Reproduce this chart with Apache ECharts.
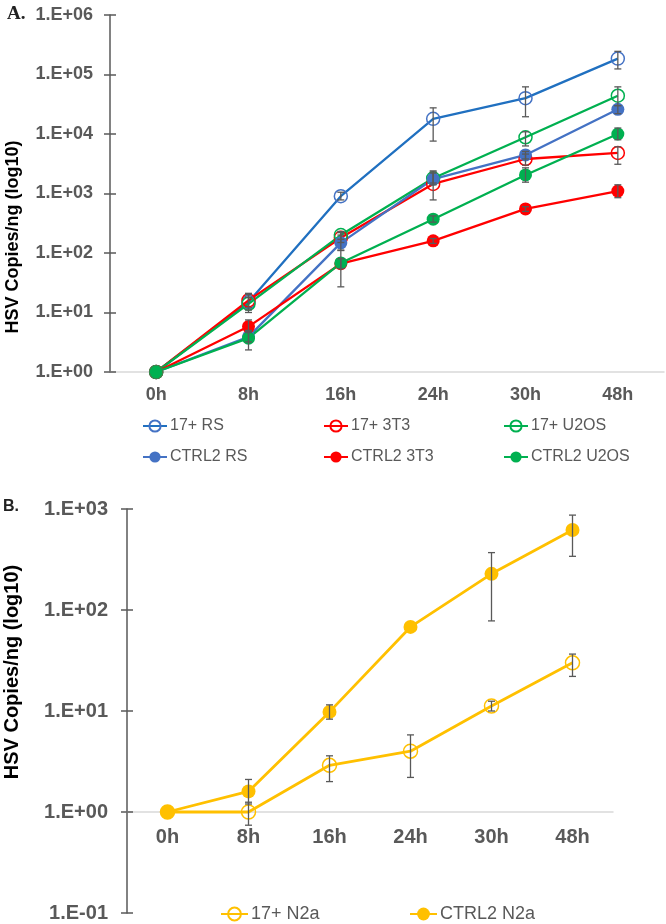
<!DOCTYPE html>
<html>
<head>
<meta charset="utf-8">
<script src="https://cdn.jsdelivr.net/npm/echarts@6/dist/echarts.min.js"></script>
<style>
html,body{margin:0;padding:0;background:#fff;}
#chart{width:666px;height:924px;}
</style>
</head>
<body>
<div id="chart"></div>
<script>
// ---------- data ----------
const categories = ['0h', '8h', '16h', '24h', '30h', '48h'];

// Panel A
const rs17      = [1, 15,  900, 18000, 40000, 185000];
const t3t17     = [1, 16,  180,  1450,  3800,   4800];
const u2os17    = [1, 14,  200,  1800,  8800,  44000];
const rsCtrl    = [1, 3.9, 148,  1750,  4450,  26000];
const t3tCtrl   = [1, 5.8,  66,   160,   550,   1100];
const u2osCtrl  = [1, 3.7,  68,   370,  2050,  10000];

const rs17Lo     = [null, 12, 780, 7600, 19500, 124000];
const rs17Hi     = [null, 20, 1050, 27500, 62000, 245000];
const t3t17Lo    = [null, 11, 150, 780, 3000, 3100];
const t3t17Hi    = [null, 21, 220, 2400, 4600, 6100];
const u2os17Lo   = [null, 10, 170, 1500, 6300, 30000];
const u2os17Hi   = [null, 18, 230, 2200, 10900, 62000];
const rsCtrlLo   = [null, 3.2, 110, 1400, 3800, 22000];
const rsCtrlHi   = [null, 4.6, 200, 2300, 5100, 30000];
const t3tCtrlLo  = [null, 4.8, 55, 145, 500, 850];
const t3tCtrlHi  = [null, 7.5, 80, 175, 600, 1400];
const u2osCtrlLo = [null, 2.35, 27, 330, 1550, 8000];
const u2osCtrlHi = [null, 5.0, 112, 420, 2700, 12600];

// Panel B
const n2a17    = [1, 1,   2.9, 4.0, 11.2, 30];
const n2aCtrl  = [1, 1.6, 9.8, 68,  228,  620];
const n2a17Lo   = [null, 0.74, 2.0, 2.2, 10, 22];
const n2a17Hi   = [null, 1.25, 3.6, 5.8, 12.5, 36.6];
const n2aCtrlLo = [null, 1.2, 8.3, null, 78, 340];
const n2aCtrlHi = [null, 2.1, 11.5, null, 370, 870];

const yTicksA = ['1.E+00', '1.E+01', '1.E+02', '1.E+03', '1.E+04', '1.E+05', '1.E+06'];
const yTicksB = ['1.E-01', '1.E+00', '1.E+01', '1.E+02', '1.E+03'];

// ---------- helpers ----------
const FONT = '"Liberation Sans", Arial, sans-serif';
const GRAY = '#595959';

function errData(lo, hi) {
  const out = [];
  for (let i = 0; i < lo.length; i++) {
    if (lo[i] != null && hi[i] != null) out.push([i, lo[i], hi[i]]);
  }
  return out;
}
function errSeries(lo, hi, xi, yi) {
  return {
    type: 'custom', xAxisIndex: xi, yAxisIndex: yi, z: 10, silent: true,
    encode: { x: 0, y: [1, 2] },
    data: errData(lo, hi),
    renderItem: function (params, api) {
      const x = api.value(0);
      const p1 = api.coord([x, api.value(2)]);
      const p2 = api.coord([x, api.value(1)]);
      const w = 3.5;
      const st = { stroke: GRAY, lineWidth: 1.3 };
      return { type: 'group', children: [
        { type: 'line', shape: { x1: p1[0], y1: p1[1], x2: p2[0], y2: p2[1] }, style: st },
        { type: 'line', shape: { x1: p1[0] - w, y1: p1[1], x2: p1[0] + w, y2: p1[1] }, style: st },
        { type: 'line', shape: { x1: p2[0] - w, y1: p2[1], x2: p2[0] + w, y2: p2[1] }, style: st }
      ]};
    }
  };
}
function lineSeries(name, data, color, open, xi, yi, size, lw, markerColor) {
  const mc = markerColor || color;
  return {
    name: name, type: 'line', xAxisIndex: xi, yAxisIndex: yi, data: data,
    symbol: 'circle', symbolSize: size, z: 3,
    lineStyle: { color: color, width: lw },
    itemStyle: open
      ? { color: 'rgba(255,255,255,0)', borderColor: mc, borderWidth: 1.5 }
      : { color: mc, borderColor: mc, borderWidth: 0 },
    emphasis: { disabled: true }
  };
}
function expLabel(ticks) {
  return function (v) {
    const e = Math.round(Math.log10(v));
    const s = (e < 0 ? '1.E-' : '1.E+') + String(Math.abs(e)).padStart(2, '0');
    return ticks.indexOf(s) >= 0 ? s : '';
  };
}
function yAxisCfg(gi, min, max, split, ticks, fs, margin) {
  return {
    gridIndex: gi, type: 'log', logBase: 10, min: min, max: max, splitNumber: split,
    axisLine: { show: true, lineStyle: { color: GRAY, width: 1.5 } },
    axisTick: { show: true, length: 6, lineStyle: { color: GRAY, width: 1.5 } },
    minorTick: { show: false },
    splitLine: { show: false },
    axisLabel: { formatter: expLabel(ticks), color: GRAY, fontWeight: 'bold', fontSize: fs, fontFamily: FONT, margin: margin }
  };
}
function yAxisInner(gi, min, max, split) {
  return {
    gridIndex: gi, type: 'log', logBase: 10, min: min, max: max, splitNumber: split, position: 'left',
    axisLine: { show: false },
    axisTick: { show: true, inside: true, length: 6, lineStyle: { color: GRAY, width: 1.5 } },
    splitLine: { show: false },
    axisLabel: { show: false }
  };
}
function legendCfg(name, left, top, fs, iw, ih) {
  return {
    data: [name], left: left, top: top, padding: 0, itemGap: 0,
    itemWidth: iw, itemHeight: ih, selectedMode: false,
    textStyle: { color: GRAY, fontSize: fs, fontFamily: FONT, padding: [0, 0, 0, -2] }
  };
}

const BLUE_D = '#2070C0', BLUE = '#4472C4', RED = '#FF0000', GREEN = '#00B050', GOLD = '#FFC000';

const option = {
  animation: false,
  backgroundColor: '#ffffff',
  grid: [
    { left: 110, top: 15, width: 554, height: 357 },
    { left: 127, top: 509, width: 486, height: 404 }
  ],
  xAxis: [
    { gridIndex: 0, type: 'category', data: categories, boundaryGap: true,
      axisLine: { lineStyle: { color: '#D9D9D9', width: 1.5 } }, axisTick: { show: false },
      axisLabel: { color: GRAY, fontWeight: 'bold', fontSize: 18, fontFamily: FONT, margin: 14 } },
    { gridIndex: 1, type: 'category', data: categories, boundaryGap: true, offset: -101,
      axisLine: { lineStyle: { color: '#D9D9D9', width: 1.5 } }, axisTick: { show: false },
      axisLabel: { color: GRAY, fontWeight: 'bold', fontSize: 20, fontFamily: FONT, margin: 15 } }
  ],
  yAxis: [
    yAxisCfg(0, 1, 1e6, 6, yTicksA, 18, 17),
    yAxisInner(0, 1, 1e6, 6),
    yAxisCfg(1, 0.1, 1000, 4, yTicksB, 20, 19),
    yAxisInner(1, 0.1, 1000, 4)
  ],
  legend: [
    legendCfg('17+ RS', 142, 418, 16, 24, 14),
    legendCfg('17+ 3T3', 323, 418, 16, 24, 14),
    legendCfg('17+ U2OS', 503, 418, 16, 24, 14),
    legendCfg('CTRL2 RS', 142, 449, 16, 24, 14),
    legendCfg('CTRL2 3T3', 323, 449, 16, 24, 14),
    legendCfg('CTRL2 U2OS', 503, 449, 16, 24, 14),
    legendCfg('17+ N2a', 220, 905, 18, 27, 16),
    legendCfg('CTRL2 N2a', 409, 905, 18, 27, 16)
  ],
  graphic: [
    { type: 'text', left: 7, top: 5, style: { text: 'A.', font: 'bold 19px "Liberation Serif", "Times New Roman", serif', fill: '#222' } },
    { type: 'text', left: 3, top: 499, style: { text: 'B.', font: 'bold 16px ' + FONT, fill: '#222' } },
    { type: 'text', x: 13, y: 237, rotation: Math.PI / 2,
      style: { text: 'HSV Copies/ng (log10)', font: 'bold 18px ' + FONT, fill: '#000', align: 'center', verticalAlign: 'middle' } },
    { type: 'text', x: 12, y: 672, rotation: Math.PI / 2,
      style: { text: 'HSV Copies/ng (log10)', font: 'bold 20px ' + FONT, fill: '#000', align: 'center', verticalAlign: 'middle' } }
  ],
  series: [
    lineSeries('17+ RS', rs17, BLUE_D, true, 0, 0, 13, 2.3, BLUE),
    lineSeries('17+ 3T3', t3t17, RED, true, 0, 0, 13, 2.3),
    lineSeries('17+ U2OS', u2os17, GREEN, true, 0, 0, 13, 2.3),
    lineSeries('CTRL2 RS', rsCtrl, BLUE, false, 0, 0, 13, 2.3),
    lineSeries('CTRL2 3T3', t3tCtrl, RED, false, 0, 0, 13, 2.3),
    lineSeries('CTRL2 U2OS', u2osCtrl, GREEN, false, 0, 0, 13, 2.3),
    errSeries(rs17Lo, rs17Hi, 0, 0),
    errSeries(t3t17Lo, t3t17Hi, 0, 0),
    errSeries(u2os17Lo, u2os17Hi, 0, 0),
    errSeries(rsCtrlLo, rsCtrlHi, 0, 0),
    errSeries(t3tCtrlLo, t3tCtrlHi, 0, 0),
    errSeries(u2osCtrlLo, u2osCtrlHi, 0, 0),
    lineSeries('17+ N2a', n2a17, GOLD, true, 1, 2, 14, 2.8),
    lineSeries('CTRL2 N2a', n2aCtrl, GOLD, false, 1, 2, 14, 2.8),
    errSeries(n2a17Lo, n2a17Hi, 1, 2),
    errSeries(n2aCtrlLo, n2aCtrlHi, 1, 2)
  ]
};

const chart = echarts.init(document.getElementById('chart'), null, { renderer: 'canvas' });
chart.setOption(option);
</script>
</body>
</html>
